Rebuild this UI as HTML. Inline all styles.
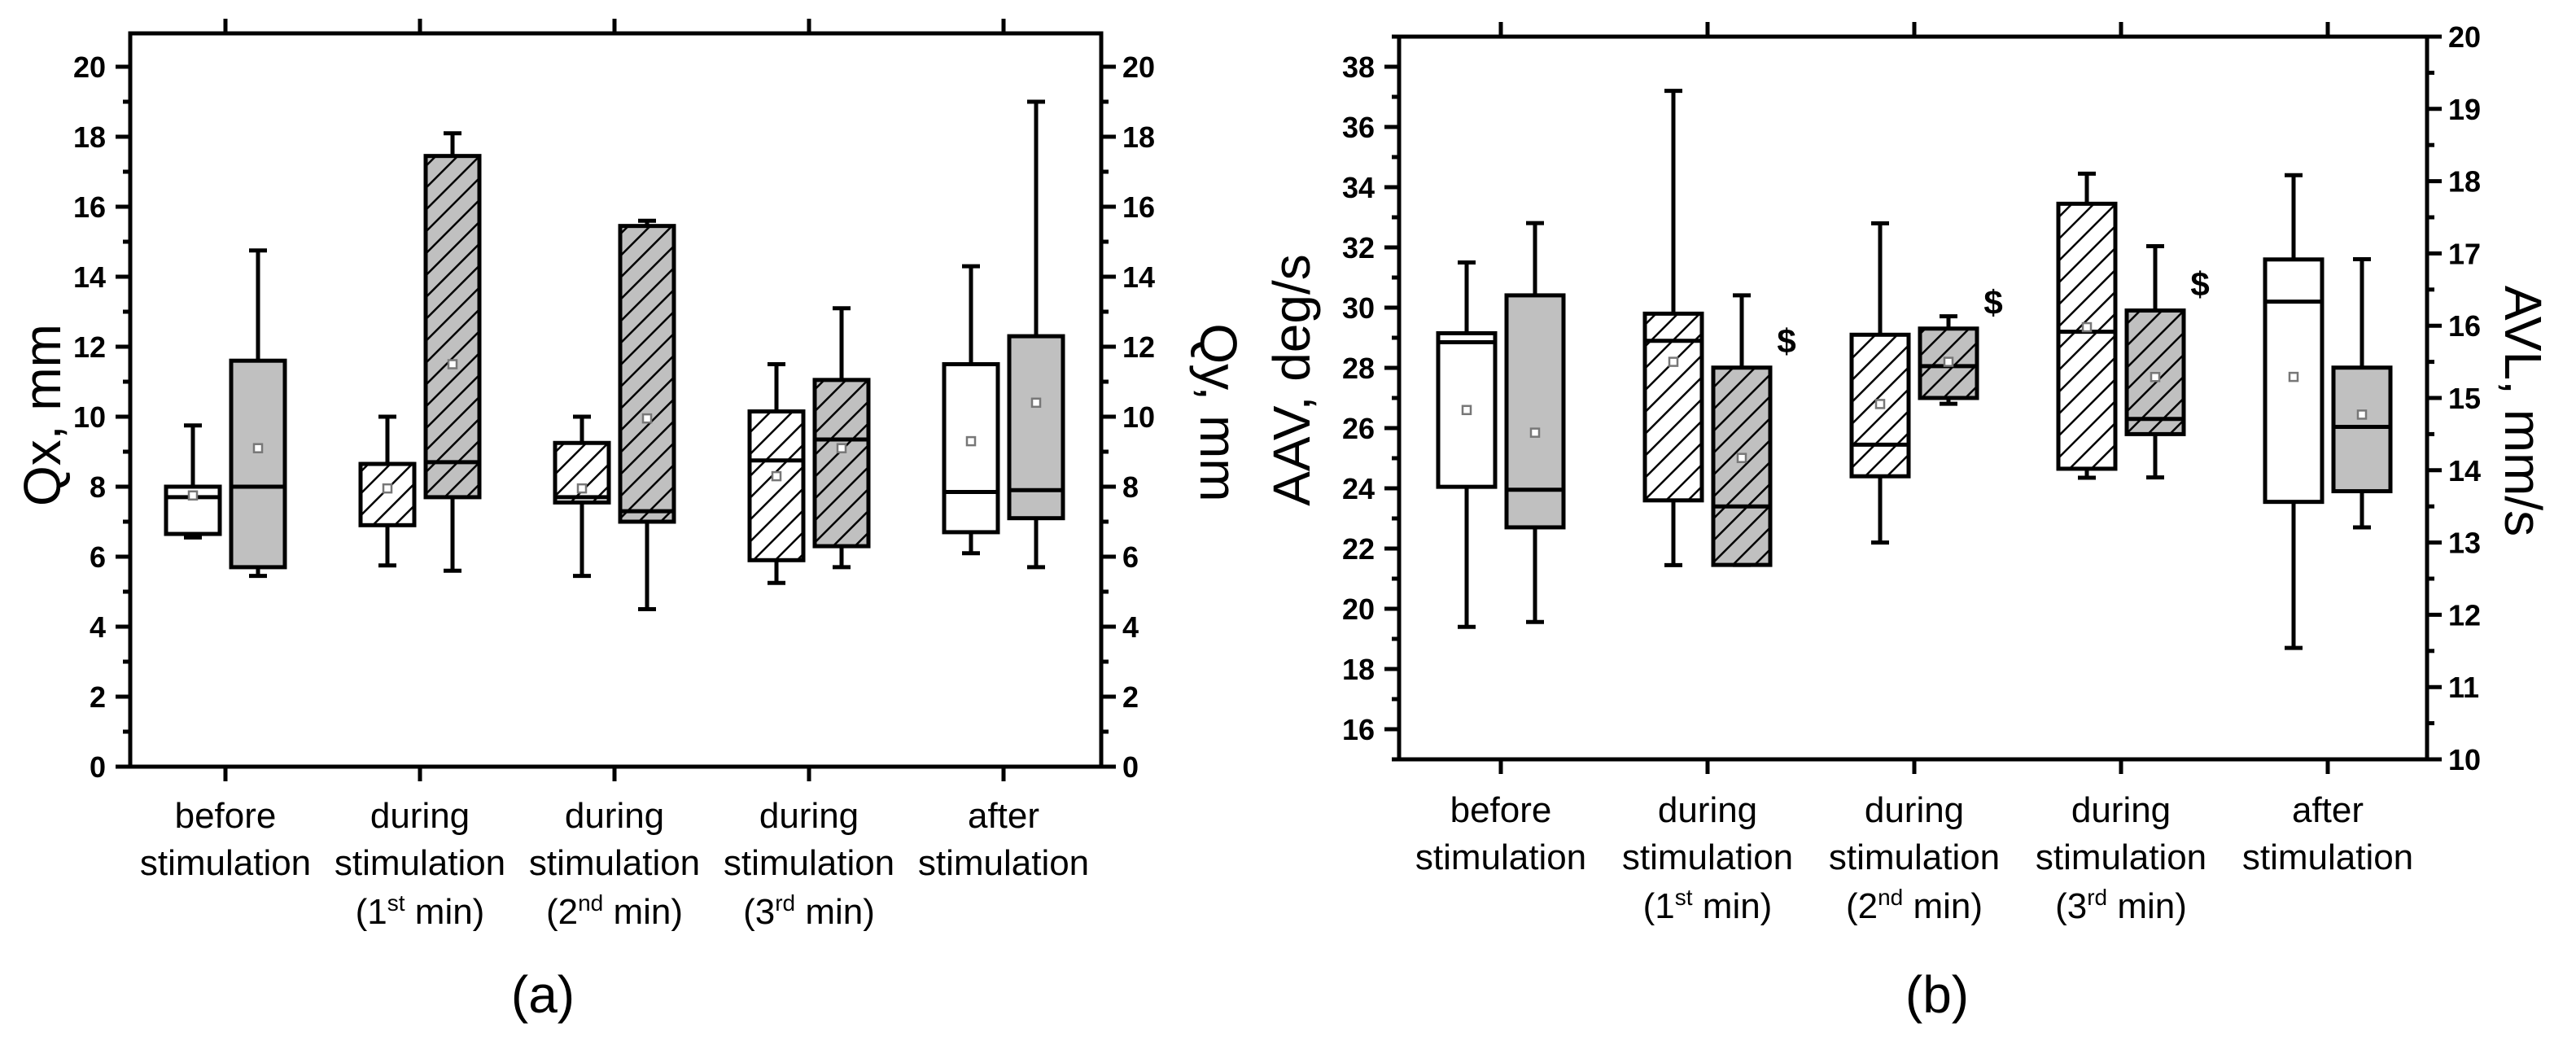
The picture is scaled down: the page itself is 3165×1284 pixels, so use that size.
<!DOCTYPE html>
<html><head><meta charset="utf-8">
<style>
html,body{margin:0;padding:0;background:#fff;}
svg{display:block;}
text{font-family:"Liberation Sans",sans-serif;fill:#000;}
.tick{font-weight:bold;font-size:36px;}
.cat{font-size:44px;}
.title{font-size:64px;}
</style></head>
<body>
<svg id="fig" width="3165" height="1284" viewBox="0 0 3165 1284" xmlns="http://www.w3.org/2000/svg">
<defs>
<pattern id="hatchW" patternUnits="userSpaceOnUse" width="19" height="19" patternTransform="rotate(45)">
<rect width="19" height="19" fill="#fff"/><line x1="0" y1="0" x2="0" y2="19" stroke="#000" stroke-width="5"/>
</pattern>
<pattern id="hatchG" patternUnits="userSpaceOnUse" width="19" height="19" patternTransform="rotate(45)">
<rect width="19" height="19" fill="#c0c0c0"/><line x1="0" y1="0" x2="0" y2="19" stroke="#000" stroke-width="5"/>
</pattern>
</defs>
<g id="panelA"></g>
<g id="panelB"></g>
</svg>
<script>
// categories
const catLine1 = ["before","during","during","during","after"];
const catLine3 = ["","1","2","3",""];
const catSup = ["","st","nd","rd",""];
const hatched = [false,true,true,true,false];
// Panel (a) Qx (white) values
const qxMin  = [6.55, 5.75, 5.45, 5.25, 6.1];
const qxQ1   = [6.65, 6.9, 7.55, 5.9, 6.7];
const qxMed  = [7.7, 8.65, 7.7, 8.75, 7.85];
const qxQ3   = [8.0, 8.65, 9.25, 10.15, 11.5];
const qxMax  = [9.75, 10.0, 10.0, 11.5, 14.3];
const qxMean = [7.75, 7.95, 7.95, 8.3, 9.3];
// Panel (a) Qy (gray) values
const qyMin  = [5.45, 5.6, 4.5, 5.7, 5.7];
const qyQ1   = [5.7, 7.7, 7.0, 6.3, 7.1];
const qyMed  = [8.0, 8.7, 7.3, 9.35, 7.9];
const qyQ3   = [11.6, 17.45, 15.45, 11.05, 12.3];
const qyMax  = [14.75, 18.1, 15.6, 13.1, 19.0];
const qyMean = [9.1, 11.5, 9.95, 9.1, 10.4];
const qTicks = [0,2,4,6,8,10,12,14,16,18,20];
// Panel (b) AAV (white) values, deg/s
const aavMin  = [19.4, 21.45, 22.2, 24.35, 18.7];
const aavQ1   = [24.05, 23.6, 24.4, 24.65, 23.55];
const aavMed  = [28.85, 28.9, 25.45, 29.2, 30.2];
const aavQ3   = [29.15, 29.8, 29.1, 33.45, 31.6];
const aavMax  = [31.5, 37.2, 32.8, 34.45, 34.4];
const aavMean = [26.6, 28.2, 26.8, 29.35, 27.7];
// Panel (b) AVL (gray) values, mm/s
const avlMin  = [11.9, 12.69, 14.92, 13.9, 13.21];
const avlQ1   = [13.21, 12.69, 15.0, 14.5, 13.71];
const avlMed  = [13.73, 13.5, 15.44, 14.71, 14.6];
const avlQ3   = [16.42, 15.42, 15.96, 16.21, 15.42];
const avlMax  = [17.42, 16.42, 16.13, 17.1, 16.92];
const avlMean = [14.52, 14.17, 15.5, 15.29, 14.77];
const avlSig  = ["", "$", "$", "$", ""];
const aavTicks = [16,18,20,22,24,26,28,30,32,34,36,38];
const avlTicks = [10,11,12,13,14,15,16,17,18,19,20];

const NS = "http://www.w3.org/2000/svg";
function mk(parent, tag, attrs){
  const e = document.createElementNS(NS, tag);
  for (const k in attrs) e.setAttribute(k, attrs[k]);
  parent.appendChild(e); return e;
}

function drawPanel(g, P){
  const y1 = P.y1, y2 = P.y2;
  // frame
  const frame = mk(g,'rect',{x:P.x0,y:P.top,width:P.x1-P.x0,height:P.bot-P.top,fill:'none',stroke:'#000','stroke-width':5});
  
  
  // left axis ticks
  for (let v=P.lMin; v<=P.lMax+1e-9; v+=P.lMinor){
    const y=y1(v); const major = Math.abs(v/P.lStep - Math.round(v/P.lStep))<1e-6;
    if (y<P.top-1||y>P.bot+1) continue;
    mk(g,'line',{x1:P.x0-(major?18:9),x2:P.x0,y1:y,y2:y,stroke:'#000','stroke-width':5});
  }
  P.lTicks.forEach(v=>{
    const t = mk(g,'text',{x:P.x0-30,y:y1(v)+13,'text-anchor':'end',class:'tick'});
    t.textContent = v;
    
    
  });
  // right axis ticks
  for (let v=P.rMin; v<=P.rMax+1e-9; v+=P.rMinor){
    const y=y2(v); const major = Math.abs(v/P.rStep - Math.round(v/P.rStep))<1e-6;
    if (y<P.top-1||y>P.bot+1) continue;
    mk(g,'line',{x1:P.x1,x2:P.x1+(major?18:9),y1:y,y2:y,stroke:'#000','stroke-width':5});
  }
  P.rTicks.forEach(v=>{
    const t = mk(g,'text',{x:P.x1+26,y:y2(v)+13,'text-anchor':'start',class:'tick'});
    t.textContent = v;
    
    
  });
  // category ticks + labels
  P.cats.forEach((cx,i)=>{
    mk(g,'line',{x1:cx,x2:cx,y1:P.bot,y2:P.bot+18,stroke:'#000','stroke-width':5});
    mk(g,'line',{x1:cx,x2:cx,y1:P.top,y2:P.top-18,stroke:'#000','stroke-width':5});
    const t = mk(g,'text',{x:cx,y:P.labY,'text-anchor':'middle',class:'cat'});
    
    
    const a = mk(t,'tspan',{x:cx}); a.textContent = catLine1[i];
    const b = mk(t,'tspan',{x:cx,dy:58}); b.textContent = 'stimulation';
    if (catLine3[i]){
      const c = mk(t,'tspan',{x:cx,dy:60}); c.textContent = '('+catLine3[i];
      const s = mk(t,'tspan',{dy:-16,'font-size':28}); s.textContent = catSup[i];
      const d = mk(t,'tspan',{dy:16}); d.textContent = ' min)';
    }
  });
  // boxes
  P.series.forEach((S,si)=>{
    P.cats.forEach((cx0,i)=>{
      const cx = cx0 + S.off, yf = S.yf, w = P.bw;
      const bg = mk(g,'g',{});
      
      
      mk(bg,'line',{x1:cx,x2:cx,y1:yf(S.max[i]),y2:yf(S.min[i]),stroke:'#000','stroke-width':5});
      mk(bg,'line',{x1:cx-11,x2:cx+11,y1:yf(S.max[i]),y2:yf(S.max[i]),stroke:'#000','stroke-width':5});
      mk(bg,'line',{x1:cx-11,x2:cx+11,y1:yf(S.min[i]),y2:yf(S.min[i]),stroke:'#000','stroke-width':5});
      const fill = hatched[i] ? (S.gray?'url(#hatchG)':'url(#hatchW)') : (S.gray?'#c0c0c0':'#fff');
      const yt = yf(S.q3[i]), yb = yf(S.q1[i]);
      mk(bg,'rect',{x:cx-w/2,y:yt,width:w,height:Math.max(yb-yt,1),fill:fill,stroke:'#000','stroke-width':5});
      mk(bg,'line',{x1:cx-w/2,x2:cx+w/2,y1:yf(S.med[i]),y2:yf(S.med[i]),stroke:'#000','stroke-width':5});
      mk(bg,'rect',{x:cx-5,y:yf(S.mean[i])-5,width:10,height:10,fill:'#fff',stroke:'#777','stroke-width':2.5});
      if (S.sig && S.sig[i]){
        const t = mk(g,'text',{x:cx+w/2+20,y:yf(S.q3[i])-18,'text-anchor':'middle','font-size':42,'font-weight':'bold'});
        t.textContent = S.sig[i];
        
        
      }
    });
  });
}

// Panel (a)
const yA = v => 942 - v*43;
drawPanel(document.getElementById('panelA'), {
  id:'panel-a', x0:160, x1:1353, top:41, bot:942, y1:yA, y2:yA,
  lMin:0, lMax:21, lStep:2, lMinor:1, rMin:0, rMax:21, rStep:2, rMinor:1,
  lTicks:qTicks, rTicks:qTicks, cats:[277,516,755,994,1233], bw:66, labY:1017,
  series:[
    {name:'qx', off:-40, gray:false, yf:yA, min:qxMin,q1:qxQ1,med:qxMed,q3:qxQ3,max:qxMax,mean:qxMean},
    {name:'qy', off:40, gray:true, yf:yA, min:qyMin,q1:qyQ1,med:qyMed,q3:qyQ3,max:qyMax,mean:qyMean}
  ]
});
// Panel (b)
const yL = v => 933 - (v-15)*37;
const yR = v => 933 - (v-10)*88.8;
drawPanel(document.getElementById('panelB'), {
  id:'panel-b', x0:1719, x1:2982, top:45, bot:933, y1:yL, y2:yR,
  lMin:15, lMax:39, lStep:2, lMinor:1, rMin:10, rMax:20, rStep:1, rMinor:0.5,
  lTicks:aavTicks, rTicks:avlTicks, cats:[1844,2098,2352,2606,2860], bw:70, labY:1010,
  series:[
    {name:'aav', off:-42, gray:false, yf:yL, min:aavMin,q1:aavQ1,med:aavMed,q3:aavQ3,max:aavMax,mean:aavMean},
    {name:'avl', off:42, gray:true, yf:yR, min:avlMin,q1:avlQ1,med:avlMed,q3:avlQ3,max:avlMax,mean:avlMean,sig:avlSig}
  ]
});

// titles
const svg = document.getElementById('fig');
function title(txt,x,y,rot,name,size){
  const t = mk(svg,'text',{x:x,y:y,'text-anchor':'middle','dominant-baseline':'central',class:'title',transform:`rotate(${rot} ${x} ${y})`});
  if (size) t.setAttribute('font-size', size);
  t.textContent = txt;
  
  
}
title('Qx, mm',52,510,-90,'qx-axis-title');
title('Qy, mm',1497,507,90,'qy-axis-title');
title('AAV, deg/s',1587,467,-90,'aav-axis-title');
title('AVL, mm/s',3100,505,90,'avl-axis-title');
title('(a)',667,1222,0,'panel-a-caption');
title('(b)',2380,1222,0,'panel-b-caption');
</script>
</body></html>
